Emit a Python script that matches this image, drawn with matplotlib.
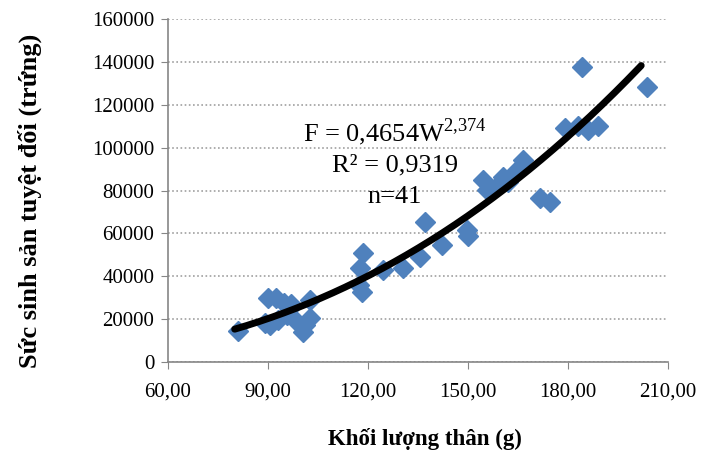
import numpy as np
import matplotlib.pyplot as plt

plt.rcParams['font.family'] = ['Liberation Serif', 'DejaVu Serif']

# khoi luong than (g) va suc sinh san tuyet doi (trung)
weight = [81, 90, 92.4, 94.8, 96.6, 90.6, 93, 95.7, 98.1, 100.5, 102.6, 102.6,
          118.5, 117.6, 117.2, 118.2, 124.5, 130.5, 135.6, 142.2, 137, 149.7,
          150, 154.5, 155.7, 158, 160.5, 164.7, 166.5, 171.6, 174.6, 184.2,
          203.7, 179.1, 186, 189, 183, 97, 89, 101, 162]
fecundity = [14500, 29900, 29900, 27500, 25200, 17300, 19600, 21900, 19600,
             14000, 20500, 28900, 50800, 43800, 36000, 32700, 42900, 43800,
             49000, 54600, 65300, 61600, 58800, 84900, 80200, 81000, 86300,
             89600, 94200, 76500, 74600, 137600, 128300, 109200, 108200,
             110100, 110000, 27000, 18000, 17500, 84000]

coef_a = 0.4654
coef_b = 2.374
x_ticks = [60, 90, 120, 150, 180, 210]
y_ticks = [0, 20000, 40000, 60000, 80000, 100000, 120000, 140000, 160000]

fig = plt.figure(figsize=(7.12, 4.63), dpi=100)
ax = fig.add_axes([0.236, 0.218, 0.702, 0.741])

ax.plot(weight, fecundity, 'D', color='#4F81BD', markersize=10.5, zorder=2)

xs = np.linspace(80, 202, 200)
ax.plot(xs, coef_a * xs ** coef_b, color='black', linewidth=5,
        solid_capstyle='round', zorder=3)

ax.set_xlim(60, 210)
ax.set_ylim(0, 160000)
ax.set_xticks(x_ticks)
ax.set_xticklabels(['%d,00' % t for t in x_ticks])
ax.set_yticks(y_ticks)
ax.set_yticklabels([str(t) for t in y_ticks])
ax.tick_params(axis='both', labelsize=15, color='#868686', length=5,
               direction='out')
ax.tick_params(axis='x', pad=10)
ax.tick_params(axis='y', pad=5)

ax.yaxis.grid(True, linestyle=(0, (1, 1.5)), color='#a0a0a0', linewidth=1.2)
ax.set_axisbelow(True)
for s in ['top', 'right']:
    ax.spines[s].set_visible(False)
for s in ['left', 'bottom']:
    ax.spines[s].set_color('#868686')
    ax.spines[s].set_linewidth(1.2)

ax.set_xlabel('Khối lượng thân (g)', fontsize=16.5, fontweight='bold')
ax.xaxis.set_label_coords(0.513, -0.192)
ax.set_ylabel('Sức sinh sản tuyệt đối (trứng)', fontsize=19, fontweight='bold')
ax.yaxis.set_label_coords(-0.252, 0.47)

ax.text(128, 107300, r'F = 0,4654W$^{\mathregular{2{,}374}}$', fontsize=19,
        ha='center', va='center')
ax.text(128, 91900, 'R² = 0,9319', fontsize=19, ha='center', va='center')
ax.text(128, 77000, 'n=41', fontsize=19, ha='center', va='center')

fig.savefig('out.png', dpi=100)
